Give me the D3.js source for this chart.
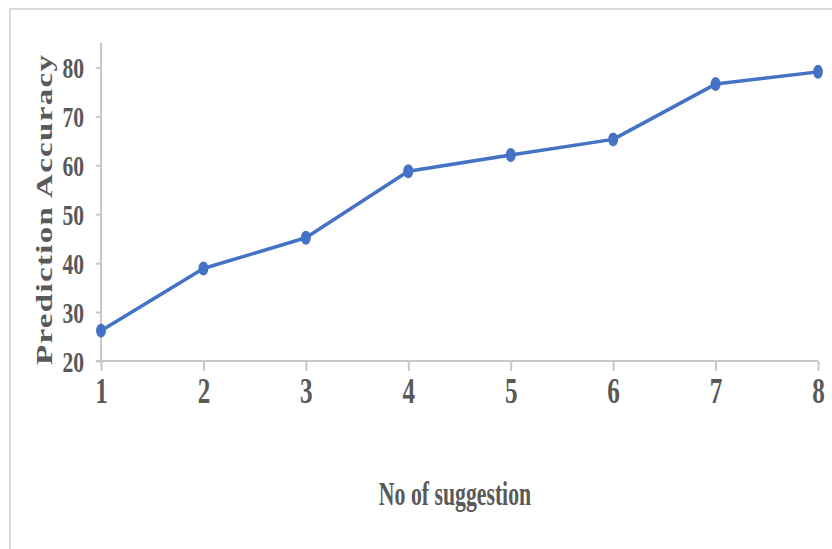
<!DOCTYPE html>
<html><head><meta charset="utf-8">
<script src="https://cdn.jsdelivr.net/npm/d3@7"></script>
<style>body{margin:0;background:#fff}svg{display:block}</style>
</head><body>
<svg id="chart" width="832" height="549"></svg>
<script>
const categories = [1, 2, 3, 4, 5, 6, 7, 8];
const accuracy = [26.2, 38.9, 45.2, 58.8, 62.1, 65.3, 76.6, 79.1];
const yTicks = [20, 30, 40, 50, 60, 70, 80];
const xTitle = "No of suggestion";
const yTitle = "Prediction Accuracy";

const svg = d3.select("#chart");
const W = 832, H = 549;
const m = {left: 101, right: 14, top: 43, bottom: 188};
const textColor = "#595959", axisColor = "#c8c8c8", lineColor = "#4472c4";
const font = "'Liberation Serif', 'Times New Roman', serif";
const sx = 0.72;

// outer frame
svg.append("path").attr("d", `M10,${H}V9H${W}`).attr("fill", "none")
  .attr("stroke", "#d9d9d9").attr("stroke-width", 2);

const x = d3.scaleLinear().domain([1, 8]).range([m.left, W - m.right]);
const y = d3.scaleLinear().domain([20, 85]).range([H - m.bottom, m.top]);

// y axis
const gy = svg.append("g").attr("transform", `translate(${m.left},0)`)
  .call(d3.axisLeft(y).tickValues(yTicks).tickSize(5).tickFormat(d3.format("d")).tickPadding(0));
gy.select(".domain").attr("stroke", axisColor).attr("stroke-width", 2).attr("d", `M0,${y(85)}V${y(20)}`);
gy.selectAll(".tick line").attr("stroke", axisColor).attr("stroke-width", 2);
gy.selectAll(".tick text").attr("fill", textColor).attr("font-family", font)
  .attr("font-weight", "bold").attr("font-size", 30).attr("x", 0).attr("dy", "0.34em")
  .attr("text-anchor", "end").attr("transform", `translate(-17,0) scale(${sx},1)`);

// x axis
const gx = svg.append("g").attr("transform", `translate(0,${y(20)})`)
  .call(d3.axisBottom(x).tickValues(categories).tickSize(10).tickFormat(d3.format("d")).tickPadding(0));
gx.select(".domain").attr("stroke", axisColor).attr("stroke-width", 2).attr("d", `M${m.left - 5},0H${x(8)}`);
gx.selectAll(".tick line").attr("stroke", axisColor).attr("stroke-width", 2);
gx.selectAll(".tick text").attr("fill", textColor).attr("font-family", font)
  .attr("font-weight", "bold").attr("font-size", 35).attr("y", 0).attr("dy", 0)
  .attr("transform", `translate(0,42) scale(${sx},1)`);

// line
svg.append("path").datum(accuracy)
  .attr("d", d3.line().x((d, i) => x(categories[i])).y(d => y(d)))
  .attr("fill", "none").attr("stroke", lineColor).attr("stroke-width", 3.5)
  .attr("stroke-linejoin", "round");
svg.selectAll("ellipse.pt").data(accuracy).join("ellipse").attr("class", "pt")
  .attr("cx", (d, i) => x(categories[i])).attr("cy", d => y(d))
  .attr("rx", 5).attr("ry", 7).attr("fill", lineColor);

// titles
svg.append("text").attr("transform", `translate(455,505) scale(0.64,1)`)
  .attr("text-anchor", "middle").attr("fill", textColor).attr("font-family", font)
  .attr("font-weight", "bold").attr("font-size", 34).text(xTitle);
svg.append("text").attr("transform", `translate(52,210) scale(${sx},1) rotate(-90)`)
  .attr("text-anchor", "middle").attr("fill", textColor).attr("font-family", font)
  .attr("font-weight", "bold").attr("font-size", 33)
  .attr("textLength", 310).attr("lengthAdjust", "spacing").text(yTitle);
</script>
</body></html>
